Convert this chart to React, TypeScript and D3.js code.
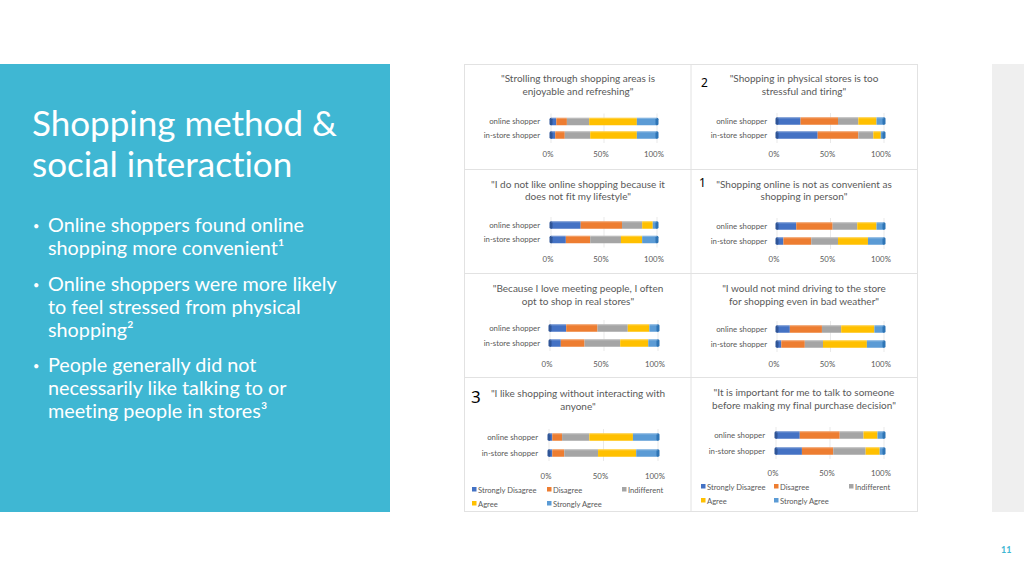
import React from "react";
import * as d3 from "d3";

// ---------- data ----------
const levels = ["Strongly Disagree", "Disagree", "Indifferent", "Agree", "Strongly Agree"];
const levelColors = ["#4472C4", "#ED7D31", "#A5A5A5", "#FFC000", "#5B9BD5"];
const groups = ["online shopper", "in-store shopper"];
const axisTicks = [0, 50, 100];

const strollingOnline = [5, 10, 21, 45, 19];
const strollingInStore = [4, 9, 24, 44, 19];
const stressfulOnline = [22, 35, 19, 17, 7];
const stressfulInStore = [38, 38, 14, 7, 3];
const lifestyleOnline = [28, 39, 19, 10, 4];
const lifestyleInStore = [14, 23, 29, 20, 14];
const convenientOnline = [18, 34, 23, 18, 7];
const convenientInStore = [6, 26, 25, 28, 15];
const meetingOnline = [15, 29, 28, 20, 8];
const meetingInStore = [10, 22, 33, 26, 9];
const weatherOnline = [12, 30, 18, 31, 9];
const weatherInStore = [4, 22, 17, 41, 16];
const noInteractOnline = [3, 9, 25, 40, 23];
const noInteractInStore = [3, 11, 31, 35, 20];
const talkOnline = [22, 37, 22, 13, 6];
const talkInStore = [24, 29, 30, 13, 4];

const questionTitles = [
  ["\"Strolling through shopping areas is", "enjoyable and refreshing\""],
  ["\"Shopping in physical stores is too", "stressful and tiring\""],
  ["\"I do not like online shopping because it", "does not fit my lifestyle\""],
  ["\"Shopping online is not as convenient as", "shopping in person\""],
  ["\"Because I love meeting people, I often", "opt to shop in real stores\""],
  ["\"I would not mind driving to the store", "for shopping even in bad weather\""],
  ["\"I like shopping without interacting with", "anyone\""],
  ["\"It is important for me to talk to someone", "before making my final purchase decision\""],
];
const questionValues = [
  [strollingOnline, strollingInStore],
  [stressfulOnline, stressfulInStore],
  [lifestyleOnline, lifestyleInStore],
  [convenientOnline, convenientInStore],
  [meetingOnline, meetingInStore],
  [weatherOnline, weatherInStore],
  [noInteractOnline, noInteractInStore],
  [talkOnline, talkInStore],
];
const questionMarkers = ["", "2", "", "1", "", "", "3", ""];

const bullets = [
  ["Online shoppers found online", "shopping more convenient\u00B9"],
  ["Online shoppers were more likely", "to feel stressed from physical", "shopping\u00B2"],
  ["People generally did not", "necessarily like talking to or", "meeting people in stores\u00B3"],
];

// ---------- layout ----------
type Layout = {
  cx: number; titleY: number[]; bars: number[]; axisY: number;
  x0: number; x1: number; labelRight: number;
  legend?: { rows: number[]; markers: number[] };
  marker?: { x: number; y: number; size: number };
};
const layouts: Layout[] = [
  { cx: 578, titleY: [82, 95], bars: [121.5, 135], axisY: 157, x0: 551, x1: 657, labelRight: 540 },
  { cx: 804, titleY: [82, 95], bars: [121, 135], axisY: 157, x0: 777, x1: 884, labelRight: 767, marker: { x: 701, y: 87, size: 12 } },
  { cx: 578, titleY: [188, 200], bars: [225, 239.5], axisY: 262, x0: 551, x1: 657, labelRight: 540 },
  { cx: 804, titleY: [188, 200], bars: [226, 241], axisY: 262, x0: 777, x1: 884, labelRight: 767, marker: { x: 699, y: 187, size: 12 } },
  { cx: 578, titleY: [292, 305], bars: [328, 343], axisY: 367, x0: 550, x1: 658, labelRight: 540 },
  { cx: 804, titleY: [292, 305], bars: [329, 344], axisY: 367, x0: 777, x1: 884, labelRight: 767 },
  { cx: 578, titleY: [397, 410], bars: [437, 453], axisY: 479, x0: 549, x1: 658, labelRight: 538,
    legend: { rows: [490, 504], markers: [472, 547, 622] }, marker: { x: 471, y: 403, size: 17 } },
  { cx: 804, titleY: [396, 409], bars: [435, 451], axisY: 476, x0: 776, x1: 884, labelRight: 765,
    legend: { rows: [487, 501], markers: [701, 774, 849] } },
];

const chartFont = "Lato, 'Open Sans', sans-serif";
const textGray = "#595959";

function Panel({ idx }: { idx: number }) {
  const L = layouts[idx];
  const vals = questionValues[idx];
  const x = d3.scaleLinear().domain([0, 100]).range([L.x0, L.x1]);
  const y = d3.scalePoint<string>().domain(groups).range([L.bars[0], L.bars[1]]);
  const rows = groups.map((g, i) => {
    const r: any = { group: g };
    levels.forEach((lv, j) => (r[lv] = vals[i][j]));
    return r;
  });
  const series = d3.stack<any>().keys(levels)(rows);
  const bh = 7.5;
  const gridTop = L.bars[0] - 8;
  const gridBot = L.bars[1] + 8;
  return (
    <g>
      {questionTitles[idx].map((t, i) => (
        <text key={i} x={L.cx} y={L.titleY[i]} textAnchor="middle" fontSize={10} fill={textGray} fontFamily={chartFont}>{t}</text>
      ))}
      {L.marker && (
        <text x={L.marker.x} y={L.marker.y} fontSize={L.marker.size} fill="#000" fontFamily="'Noto Sans', sans-serif">{questionMarkers[idx]}</text>
      )}
      {axisTicks.map((t) => (
        <line key={t} x1={x(t)} x2={x(t)} y1={gridTop} y2={gridBot} stroke="#E3E3E3" strokeWidth={0.8} />
      ))}
      {series.map((s, si) =>
        s.map((d, di) => {
          const yc = y(groups[di])!;
          return (
            <rect key={si + "-" + di} x={x(d[0])} y={yc - bh / 2} width={Math.max(0, x(d[1]) - x(d[0]))} height={bh} fill={levelColors[si]} />
          );
        })
      )}
      {groups.map((g) => {
        const yc = y(g)!;
        return (
          <g key={g}>
            <rect x={x(0) - 1.5} y={yc - bh / 2} width={3} height={bh} rx={1.5} fill="#2F5597" />
            <rect x={x(100) - 1.5} y={yc - bh / 2} width={3} height={bh} rx={1.5} fill="#2E75B6" />
            <rect x={x(0)} y={yc - bh / 2} width={x(100) - x(0)} height={1.2} fill="#ffffff" opacity={0.25} />
            <text x={L.labelRight} y={yc + 2.8} textAnchor="end" fontSize={7.8} fill={textGray} fontFamily={chartFont}>{g}</text>
          </g>
        );
      })}
      {axisTicks.map((t) => (
        <text key={t} x={x(t) - 3} y={L.axisY} textAnchor="middle" fontSize={7.8} fill={textGray} fontFamily={chartFont}>{t + "%"}</text>
      ))}
      {L.legend &&
        levels.map((lv, i) => {
          const row = Math.floor(i / 3);
          const col = i % 3;
          const lx = L.legend!.markers[col];
          const ly = L.legend!.rows[row];
          return (
            <g key={lv}>
              <rect x={lx} y={ly - 3} width={4.5} height={4.5} fill={levelColors[i]} />
              <text x={lx + 6} y={ly + 2.5} fontSize={7.6} fill={textGray} fontFamily={chartFont}>{lv}</text>
            </g>
          );
        })}
    </g>
  );
}

export default function App() {
  const bulletStarts = [232, 291, 372];
  return (
    <svg width={1024} height={576} style={{ position: "fixed", left: 0, top: 0, background: "#fff", fontVariantLigatures: "none", fontFeatureSettings: "'liga' 0, 'clig' 0" }}>
      <rect x={0} y={0} width={1024} height={576} fill="#ffffff" />
      <rect x={0} y={64} width={390} height={448} fill="#3FB7D3" />
      <rect x={992} y={64} width={32} height={448} fill="#EFEFEF" />
      <text fontFamily="Lato, sans-serif" fontSize={35} fill="#ffffff" fontWeight={400}>
        <tspan x={32} y={136}>Shopping method &amp;</tspan>
        <tspan x={32} y={177}>social interaction</tspan>
      </text>
      {bullets.map((b, bi) => (
        <g key={bi}>
          <text x={33} y={bulletStarts[bi] - 2} fontSize={11} fill="#ffffff" fontFamily="Lato, sans-serif">•</text>
          {b.map((line, li) => (
            <text key={li} x={48} y={bulletStarts[bi] + li * 23} fontSize={19.8} fill="#ffffff" fontFamily="Lato, sans-serif">{line}</text>
          ))}
        </g>
      ))}
      {/* chart grid frame */}
      <rect x={464.5} y={64.5} width={453} height={447} fill="#ffffff" stroke="#E2E2E2" />
      <line x1={691} x2={691} y1={64} y2={512} stroke="#E2E2E2" />
      {[169.5, 273.5, 377.5].map((yy) => (
        <line key={yy} x1={464} x2={918} y1={yy} y2={yy} stroke="#E2E2E2" />
      ))}
      {layouts.map((_, i) => (
        <Panel key={i} idx={i} />
      ))}
      <text x={1001} y={553} fontSize={9} fontWeight={700} fill="#3FB7D3" fontFamily="Lato, sans-serif">11</text>
    </svg>
  );
}
